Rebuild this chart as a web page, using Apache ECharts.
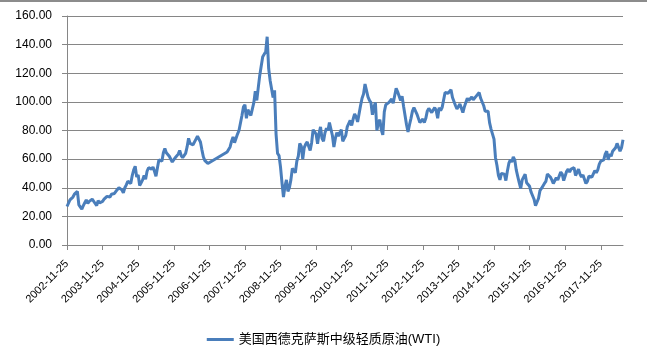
<!DOCTYPE html>
<html>
<head>
<meta charset="utf-8">
<script src="https://cdn.jsdelivr.net/npm/echarts@6/dist/echarts.min.js"></script>
<style>
html,body{margin:0;padding:0;background:#fff;}
#c{width:647px;height:358px;}
</style>
</head>
<body>
<div id="c"></div>
<script>
// Semi-monthly readings (10th and 25th of each month), starting 2002-11-25
const seriesName = '美国西德克萨斯中级轻质原油(WTI)';
const y2002 = [26.9, 27.5, 31.5];
const y2003 = [32.0, 33.5, 35.5, 36.5, 37.5, 28.0, 28.5, 25.0, 27.5, 29.5, 31.5, 29.0, 30.5, 30.5, 32.0, 31.5, 29.0, 27.5, 31.0, 29.5, 30.5, 30.5, 32.0, 32.5];
const y2004 = [34.0, 35.0, 33.5, 35.5, 36.5, 36.0, 37.5, 37.5, 40.0, 40.5, 38.5, 36.5, 40.0, 42.0, 44.5, 44.0, 43.0, 48.5, 52.5, 55.0, 47.5, 49.0, 41.5, 43.5];
const y2005 = [45.5, 48.5, 46.0, 51.5, 54.0, 54.5, 53.0, 54.5, 51.5, 48.0, 54.0, 59.5, 60.0, 58.5, 64.5, 67.5, 64.5, 65.5, 62.0, 61.0, 58.0, 58.0, 61.0, 60.0];
const y2006 = [63.5, 66.0, 62.5, 61.0, 60.0, 64.0, 68.5, 74.5, 71.0, 71.5, 70.0, 70.5, 74.0, 76.0, 76.5, 72.0, 66.5, 61.5, 59.0, 59.5, 57.0, null, null, null];
const y2007 = [null, null, null, null, null, null, null, null, null, 65.0, 66.0, 68.5, 72.5, 75.5, 71.5, 71.5, 77.5, 80.0, 81.0, 90.5, 96.5, 98.0, 88.5, 94.5];
const y2008 = [95.5, 90.5, 89.5, 99.5, 107.5, 101.0, 110.0, 118.5, 125.0, 131.5, 131.5, 135.0, 145.5, 123.5, 115.0, 116.0, 103.0, 108.0, 77.5, 64.0, 62.5, 54.5, 43.5, 33.5];
const y2009 = [41.0, 45.5, 37.5, 40.0, 45.5, 53.5, 52.0, 50.5, 58.5, 62.0, 71.0, 69.0, 60.0, 68.0, 70.5, 72.0, 71.5, 66.0, 71.5, 80.5, 79.0, 77.5, 70.7, 78.0];
const y2010 = [82.5, 74.5, 72.5, 78.5, 81.5, 80.0, 85.5, 84.5, 76.5, 68.5, 74.5, 78.5, 76.0, 78.5, 80.5, 72.5, 74.5, 76.5, 82.5, 81.5, 87.0, 83.5, 88.0, 91.5];
const y2011 = [89.5, 86.0, 86.5, 97.5, 102.5, 105.5, 112.5, 113.5, 103.5, 101.0, 99.5, 91.0, 96.5, 99.5, 80.0, 85.5, 87.5, 80.5, 77.0, 93.0, 98.0, 97.5, 99.5, 99.5];
const y2012 = [102.0, 99.0, 98.5, 109.5, 107.0, 106.5, 101.0, 104.0, 97.0, 90.5, 84.0, 79.0, 84.0, 88.5, 93.5, 96.0, 96.5, 91.5, 91.0, 85.5, 86.0, 88.0, 85.5, 88.5];
const y2013 = [93.5, 95.5, 96.5, 92.5, 92.0, 96.0, 94.0, 88.5, 96.0, 94.0, 96.0, 95.0, 106.5, 105.5, 106.0, 106.0, 108.5, 103.0, 103.0, 97.5, 95.0, 94.0, 98.5, 99.0];
const y2014 = [92.5, 96.5, 99.5, 102.5, 101.0, 100.0, 103.5, 101.5, 100.5, 104.0, 104.5, 106.5, 102.5, 102.0, 97.5, 93.5, 92.5, 93.5, 85.5, 81.0, 77.5, 74.0, 61.0, 55.5];
const y2015 = [48.5, 45.5, 50.0, 49.0, 49.5, 45.0, 51.5, 57.0, 59.5, 58.0, 61.5, 59.5, 52.5, 48.0, 43.5, 39.5, 45.5, 45.0, 49.5, 43.5, 44.0, 41.0, 37.0, 37.5];
const y2016 = [32.0, 27.5, 27.0, 32.5, 38.0, 39.5, 39.5, 43.0, 44.5, 49.5, 49.0, 47.5, 45.5, 43.0, 42.0, 47.0, 45.5, 44.5, 51.0, 49.5, 45.0, 46.0, 51.5, 53.0];
const y2017 = [51.0, 53.0, 53.5, 54.0, 48.5, 47.5, 53.0, 49.5, 47.5, 49.0, 46.0, 43.0, 44.5, 48.0, 48.5, 47.5, 47.5, 52.0, 50.5, 52.5, 56.5, 58.5, 57.5, 59.5];
const y2018 = [63.5, 65.5, 59.5, 63.5, 62.0, 65.5, 65.5, 68.0, 71.0, 71.5, 65.5, 68.0, 73.5];

const values = [].concat(y2002, y2003, y2004, y2005, y2006, y2007, y2008, y2009,
  y2010, y2011, y2012, y2013, y2014, y2015, y2016, y2017, y2018);

// Category dates: 25th of Nov 2002, then 10th and 25th of every month
const categories = [];
(function () {
  const pad = n => (n < 10 ? '0' : '') + n;
  let y = 2002, m = 11, d = 25;
  while (categories.length < values.length) {
    categories.push(y + '-' + pad(m) + '-' + d);
    if (d === 10) { d = 25; } else { d = 10; m++; if (m > 12) { m = 1; y++; } }
  }
})();

const yTicks = { min: 0, max: 160, interval: 20 };
const fontFam = '"Liberation Sans", Arial, "Noto Sans CJK SC", sans-serif';

const chart = echarts.init(document.getElementById('c'), null, { renderer: 'canvas' });
chart.setOption({
  animation: false,
  backgroundColor: '#ffffff',
  graphic: [{
    type: 'rect', left: 0, top: 0, shape: { width: 647, height: 2 },
    style: { fill: '#8c8c8c' }, silent: true
  }],
  grid: { left: 67, right: 24, top: 16, bottom: 113, containLabel: false },
  legend: {
    data: [seriesName],
    bottom: 7,
    left: 'center',
    icon: 'rect',
    itemWidth: 27,
    itemHeight: 3,
    textStyle: { fontSize: 13, color: '#000', fontFamily: fontFam }
  },
  xAxis: {
    type: 'category',
    data: categories,
    boundaryGap: false,
    axisLine: { lineStyle: { color: '#868686', width: 1 } },
    axisTick: { interval: 23, length: 5, lineStyle: { color: '#868686' } },
    axisLabel: {
      interval: 23, rotate: 45, margin: 17,
      fontSize: 11, color: '#000', fontFamily: fontFam
    },
    splitLine: { show: false }
  },
  yAxis: {
    type: 'value',
    min: yTicks.min, max: yTicks.max, interval: yTicks.interval,
    axisLine: { show: true, lineStyle: { color: '#868686', width: 1 } },
    axisTick: { show: true, length: 5, lineStyle: { color: '#868686' } },
    axisLabel: {
      formatter: v => v.toFixed(2), margin: 15,
      fontSize: 12, color: '#000', fontFamily: fontFam
    },
    splitLine: { lineStyle: { color: '#868686', width: 1 } }
  },
  series: [{
    name: seriesName,
    type: 'line',
    data: values,
    connectNulls: true,
    showSymbol: false,
    symbol: 'none',
    lineStyle: { color: '#4A7EBB', width: 3 },
    itemStyle: { color: '#4A7EBB' }
  }]
});
</script>
</body>
</html>
